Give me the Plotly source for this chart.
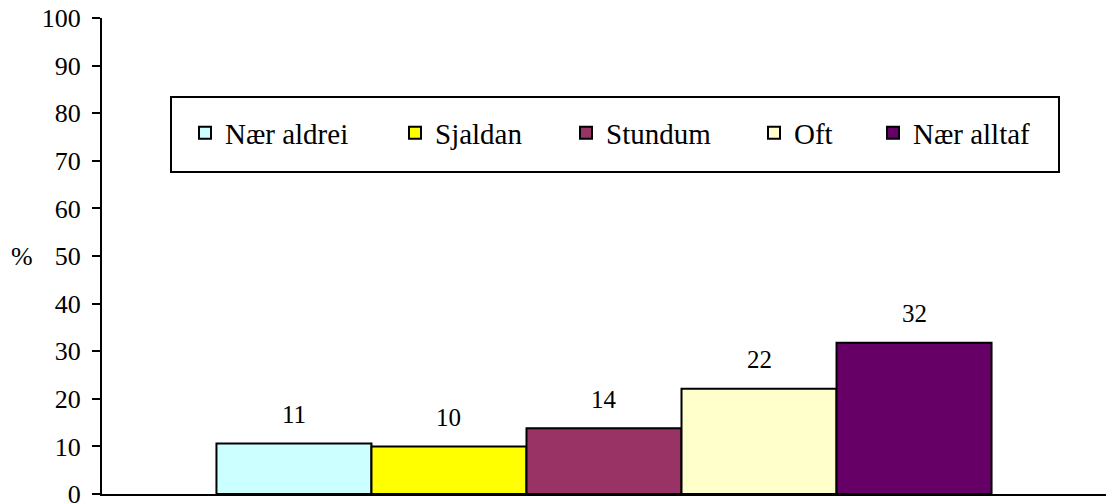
import plotly.graph_objects as go

categories = [""]
series_names = ["Nær aldrei", "Sjaldan", "Stundum", "Oft", "Nær alltaf"]
series_values = [10.6, 10.0, 13.8, 22.1, 31.8]
series_colors = ["#CCFFFF", "#FFFF00", "#993366", "#FFFFCC", "#660066"]
y_ticks = list(range(0, 101, 10))

# layout geometry (pixels)
W, H = 1106, 504
ML, MR, MT, MB = 102, 0, 18, 10
PW = W - ML - MR
PH = H - MT - MB
BARGAP = 0.228
FONT = "Liberation Serif, Times New Roman, serif"

def px_to_paper_x(px):
    return (px - ML) / PW

def px_to_paper_y(py):
    return (H - MB - py) / PH

# legend item text start positions (pixels)
legend_text_x = [225, 435, 606, 794, 913]
legend_center_y = 133

fig = go.Figure()
n = len(series_names)
for i, (name, val, col) in enumerate(zip(series_names, series_values, series_colors)):
    lg = "legend" if i == 0 else f"legend{i+1}"
    fig.add_trace(go.Bar(
        x=categories, y=[val], name=name,
        marker=dict(color=col, line=dict(color="black", width=2)),
        legend=lg, hoverinfo="name+y",
    ))

# data labels
group_w = 1 - BARGAP
bw = group_w / n
for i, val in enumerate(series_values):
    xc = -group_w / 2 + (i + 0.5) * bw
    fig.add_annotation(x=xc, y=val, xref="x", yref="y", text=f"{val:.0f}",
                       showarrow=False, yanchor="middle", yshift=29,
                       font=dict(family=FONT, size=25, color="black"))

# y axis title (horizontal)
fig.add_annotation(x=px_to_paper_x(22), y=50, xref="paper", yref="y", text="%",
                   showarrow=False, xanchor="center", yanchor="middle",
                   font=dict(family=FONT, size=26, color="black"))

# legend frame
fig.add_shape(type="rect", xref="paper", yref="paper",
              x0=px_to_paper_x(171), x1=px_to_paper_x(1059),
              y0=px_to_paper_y(172), y1=px_to_paper_y(97),
              line=dict(color="black", width=2), fillcolor="white", layer="below")

legends = {}
for i in range(n):
    key = "legend" if i == 0 else f"legend{i+1}"
    legends[key] = dict(
        x=px_to_paper_x(legend_text_x[i] - 40), xanchor="left",
        y=px_to_paper_y(legend_center_y), yanchor="middle",
        bgcolor="rgba(0,0,0,0)", borderwidth=0,
        font=dict(family=FONT, size=29, color="black"),
        orientation="h",
    )

fig.update_layout(
    width=W, height=H,
    margin=dict(l=ML, r=MR, t=MT, b=MB, autoexpand=False),
    paper_bgcolor="white", plot_bgcolor="white",
    barmode="group", bargap=BARGAP, bargroupgap=0,
    showlegend=True,
    font=dict(family=FONT, color="black"),
    xaxis=dict(range=[-0.5, 0.5], showticklabels=False, ticks="",
               showline=True, linecolor="black", linewidth=2,
               showgrid=False, zeroline=False, fixedrange=True,
               automargin=False),
    yaxis=dict(range=[0, 100], tickvals=y_ticks, ticks="outside", ticklen=8,
               tickwidth=2, tickcolor="black", showline=True, linecolor="black",
               linewidth=2, showgrid=False, zeroline=False,
               tickfont=dict(family=FONT, size=26, color="black"),
               ticklabelstandoff=6, ticklabeloverflow="allow", fixedrange=True,
               automargin=False),
    **legends,
)

fig.write_html("out.html",
               config={"displayModeBar": False},
               post_script="document.body.style.margin='0px';document.body.style.overflow='hidden';")
